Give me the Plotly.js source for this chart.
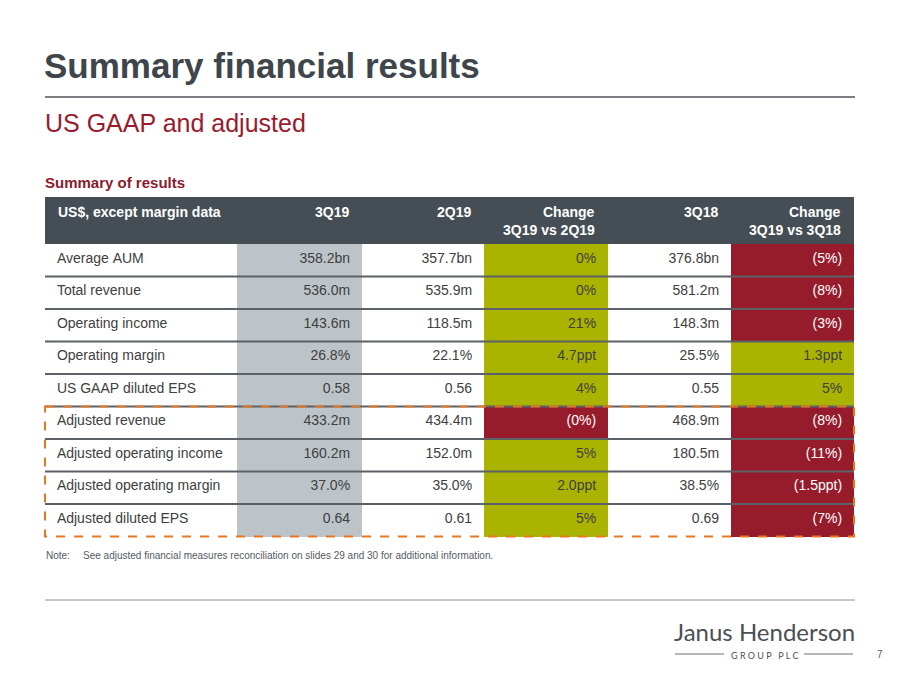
<!DOCTYPE html>
<html><head><meta charset="utf-8">
<script src="https://cdn.plot.ly/plotly-3.0.1.min.js"></script>
<style>html,body{margin:0;padding:0;background:#fff}#chart{width:900px;height:675px}</style>
</head><body><div id="chart"></div>
<script>
// ---- data ----
const headers = ["US$, except margin data", "3Q19", "2Q19", "Change<br>3Q19 vs 2Q19", "3Q18", "Change<br>3Q19 vs 3Q18"];
const metrics = ["Average AUM", "Total revenue", "Operating income", "Operating margin", "US GAAP diluted EPS",
  "Adjusted revenue", "Adjusted operating income", "Adjusted operating margin", "Adjusted diluted EPS"];
const q3_19 = ["358.2bn", "536.0m", "143.6m", "26.8%", "0.58", "433.2m", "160.2m", "37.0%", "0.64"];
const q2_19 = ["357.7bn", "535.9m", "118.5m", "22.1%", "0.56", "434.4m", "152.0m", "35.0%", "0.61"];
const chgQoQ = ["0%", "0%", "21%", "4.7ppt", "4%", "(0%)", "5%", "2.0ppt", "5%"];
const q3_18 = ["376.8bn", "581.2m", "148.3m", "25.5%", "0.55", "468.9m", "180.5m", "38.5%", "0.69"];
const chgYoY = ["(5%)", "(8%)", "(3%)", "1.3ppt", "5%", "(8%)", "(11%)", "(1.5ppt)", "(7%)"];
const adjustedStart = 5;

// ---- layout constants ----
const W = 900, H = 675;
const tLeft = 45, tRight = 854, tTop = 197, headH = 47, rowH = 32.5;
const colW = [192, 125, 122, 124, 123, 123];
const GREEN = '#a9b300', RED = '#961b2b', GREY = '#bcc4c9', HEAD = '#464e55';
const TXT = '#404040';
const NB = '\u00a0';
const F = 'Liberation Sans, Arial, sans-serif';
const px = x => x / W;
const py = y => 1 - y / H;

const isNeg = s => s.trim().startsWith('(');
const chgFill = arr => arr.map(v => isNeg(v) ? RED : GREEN);
const chgFont = arr => arr.map(v => isNeg(v) ? '#ffffff' : TXT);
const n = metrics.length;
const rep = v => metrics.map(() => v);
const fixL = arr => arr.map(s => NB + s.replace(/ /g, NB));
const fixR = arr => arr.map(s => s.replace(/ /g, NB) + NB);

const table = {
  type: 'table',
  domain: {x: [px(tLeft), px(tRight)], y: [py(tTop + headH + rowH * n + 20), py(tTop)]},
  columnwidth: colW,
  header: {
    values: headers.map(() => ['']),
    fill: {color: HEAD},
    line: {width: 0, color: HEAD},
    height: headH
  },
  cells: {
    values: [fixL(metrics), fixR(q3_19), fixR(q2_19), fixR(chgQoQ), fixR(q3_18), fixR(chgYoY)],
    align: ['left', 'right', 'right', 'right', 'right', 'right'],
    fill: {color: [rep('#ffffff'), rep(GREY), rep('#ffffff'), chgFill(chgQoQ), rep('#ffffff'), chgFill(chgYoY)]},
    line: {width: 0, color: 'rgba(0,0,0,0)'},
    font: {family: F, size: 14,
      color: [rep(TXT), rep(TXT), rep(TXT), chgFont(chgQoQ), rep(TXT), chgFont(chgYoY)]},
    height: rowH
  }
};

const shapes = [];
shapes.push({type: 'line', xref: 'paper', yref: 'paper', x0: px(45), x1: px(855), y0: py(97), y1: py(97), line: {color: '#7a7f83', width: 2}});
shapes.push({type: 'line', xref: 'paper', yref: 'paper', x0: px(45), x1: px(855), y0: py(600), y1: py(600), line: {color: '#8c9094', width: 1}});
for (let k = 1; k < n; k++) {
  const y = tTop + headH + rowH * k;
  shapes.push({type: 'line', xref: 'paper', yref: 'paper', x0: px(tLeft), x1: px(tRight), y0: py(y), y1: py(y), line: {color: '#5b6166', width: 2}});
}
shapes.push({type: 'rect', xref: 'paper', yref: 'paper', x0: px(tLeft), x1: px(tRight),
  y0: py(tTop + headH + rowH * adjustedStart), y1: py(tTop + headH + rowH * n),
  line: {color: '#e87722', width: 2, dash: 'dash'}, fillcolor: 'rgba(0,0,0,0)'});
shapes.push({type: 'line', xref: 'paper', yref: 'paper', x0: px(675), x1: px(724), y0: py(654), y1: py(654), line: {color: '#6a6f74', width: 1}});
shapes.push({type: 'line', xref: 'paper', yref: 'paper', x0: px(804), x1: px(853), y0: py(654), y1: py(654), line: {color: '#6a6f74', width: 1}});

const ann = (text, x, y, size, color, opts = {}) => Object.assign({
  text, x: px(x), y: py(y), xref: 'paper', yref: 'paper', xanchor: 'left', yanchor: 'middle',
  showarrow: false, font: {family: F, size, color}
}, opts);

const annotations = [
  ann('<b>Summary financial results</b>', 42, 66, 35, '#3e454b'),
  ann('US GAAP and adjusted', 43, 123, 25, '#9a1b2d'),
  ann('<b>Summary of results</b>', 43, 182, 15, '#8c1a2b'),
  ann('Note:', 44, 555, 10, '#555a5f'),
  ann('See adjusted financial measures reconciliation on slides 29 and 30 for additional information.', 81, 555, 10, '#555a5f'),
  ann('Janus Henderson', 672, 631, 24, '#4a4f55', {font: {family: 'Lato, Liberation Sans, sans-serif', size: 24, color: '#4a4f55'}}),
  ann('G R O U P   P L C', 764, 655, 9, '#4a4f55', {xanchor: 'center', font: {family: 'Lato, Liberation Sans, sans-serif', size: 9, color: '#4a4f55'}}),
  ann('7', 875, 654, 10, '#555a5f')
];

// header labels, placed from the column widths
const totW = colW.reduce((a, b) => a + b, 0);
let acc = 0;
headers.forEach((h, i) => {
  const x0 = tLeft + (tRight - tLeft) * acc / totW;
  acc += colW[i];
  const x1 = tLeft + (tRight - tLeft) * acc / totW;
  h.split('<br>').forEach((line, j) => {
    annotations.push(ann('<b>' + line + '</b>', i === 0 ? x0 + 11 : x1 - 11, tTop + 15 + 18 * j, 14, '#ffffff',
      {xanchor: i === 0 ? 'left' : 'right'}));
  });
});

Plotly.newPlot('chart', [table], {
  width: W, height: H,
  margin: {l: 0, r: 0, t: 0, b: 0},
  paper_bgcolor: '#ffffff',
  shapes, annotations, showlegend: false
}, {displayModeBar: false, staticPlot: true});
</script></body></html>
